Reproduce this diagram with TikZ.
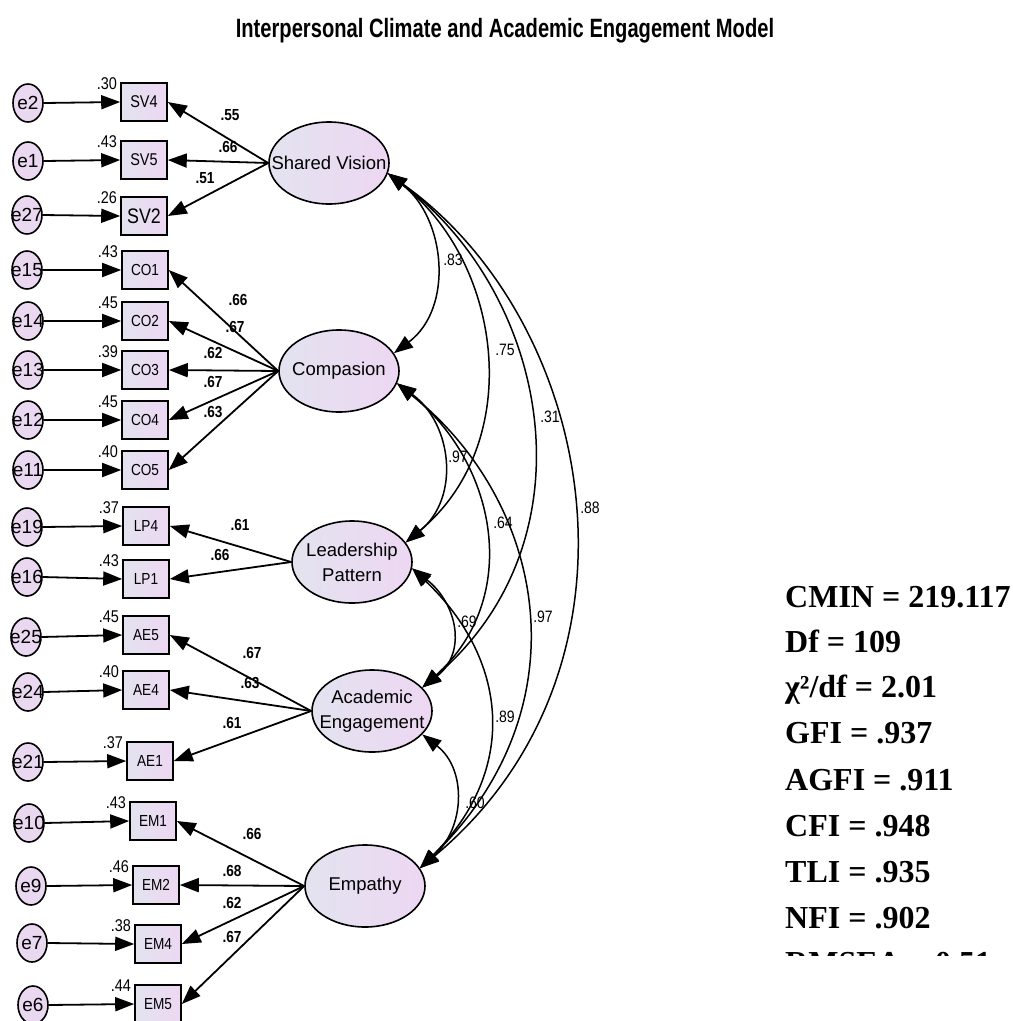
\documentclass[tikz,border=0pt]{standalone}
\usepackage{fontspec}
\setmainfont{Liberation Sans}
\newfontfamily\narrowfont{Liberation Sans}[FakeStretch=0.85]
\newfontfamily\titlefont{Liberation Sans}[FakeStretch=0.76]
\newfontfamily\fitfont{Liberation Serif}
\usetikzlibrary{shapes.geometric, arrows.meta}

\definecolor{shadeleft}{HTML}{E3E3EF}
\definecolor{shaderight}{HTML}{EDD7F3}
\definecolor{errfill}{HTML}{EAD7F0}

\tikzset{
    tip/.tip={Triangle[length=19bp, width=14bp]},
    obsbox/.style={draw, line width=1.6bp, rectangle, minimum width=46bp, minimum height=38bp,
        inner sep=0pt, left color=shadeleft, right color=shaderight},
    errnode/.style={draw, line width=1.6bp, ellipse, minimum width=30bp, minimum height=38bp,
        inner sep=0pt, fill=errfill, label={[errtext]center:#1}},
    errtext/.style={inner sep=0pt, font=\fontsize{19bp}{21bp}\selectfont},
    latent/.style={draw, line width=1.6bp, ellipse, minimum width=120bp, minimum height=82bp,
        inner sep=0pt, left color=shadeleft, right color=shaderight, label={[latenttext]center:#1}},
    latenttext/.style={align=center, inner sep=0pt, font=\fontsize{18.5bp}{25bp}\selectfont},
    loading/.style={-tip, line width=1.8bp},
    covar/.style={tip-tip, line width=1.5bp},
    weight/.style={inner sep=0pt, font=\narrowfont\bfseries\fontsize{16bp}{18bp}\selectfont},
    rsq/.style={inner sep=0pt, anchor=base east, font=\narrowfont\fontsize{17bp}{19bp}\selectfont},
    corr/.style={inner sep=0pt, font=\narrowfont\fontsize{16.5bp}{18bp}\selectfont},
    fit/.style={inner sep=0pt, anchor=base west, font=\fitfont\bfseries\fontsize{32bp}{34bp}\selectfont}
}

\begin{document}
\begin{tikzpicture}[x=1bp, y=-1bp]
    \useasboundingbox (0,0) rectangle (1013,1021);

    \node[font=\titlefont\bfseries\fontsize{26.5bp}{28bp}\selectfont] (title) at (505,31)
        {Interpersonal Climate and Academic Engagement Model};

    % latent factors
    \node[latent={Shared Vision}] (SV) at (329,163) {};
    \node[latent={Compasion}] (CO) at (339,371) {};
    \node[latent={Leadership\\Pattern}] (LP) at (352,562) {};
    \node[latent={Academic\\Engagement}] (AE) at (372,711) {};
    \node[latent={Empathy}] (EM) at (365,886) {};

    % indicators with their error terms
    \foreach \item/\bx/\by/\fs/\err/\ex/\ey/\rval in {
        SV4/144/102/17/e2/28/103/.30,
        SV5/144/160/17/e1/28/161/.43,
        SV2/144/216/21/e27/27/215/.26,
        CO1/145/270/16/e15/27/270/.43,
        CO2/145/321/16/e14/28/321/.45,
        CO3/145/370/16/e13/28/370/.39,
        CO4/145/420/16/e12/28/420/.45,
        CO5/145/470/16/e11/28/470/.40,
        LP4/146/526/16/e19/27/527/.37,
        LP1/146/579/16/e16/27/577/.43,
        AE5/146/635/16/e25/26/637/.45,
        AE4/146/690/16/e24/28/692/.40,
        AE1/150/761/16/e21/28/762/.37,
        EM1/153/821/16/e10/29/823/.43,
        EM2/156/885/16/e9/31/886/.46,
        EM4/158/944/16/e7/32/943/.38,
        EM5/158/1004/16/e6/33/1005/.44
    }{
        \node[obsbox, font=\narrowfont\fontsize{\fs bp}{\fs bp}\selectfont] (\item) at (\bx,\by) {\item};
        \node[errnode=\err] (\err) at (\ex,\ey) {};
        \node[rsq] (r\item) at ([shift={(-3,7)}]\item.north west) {\rval};
        \draw[loading] (\err.east) -- (\item.west);
    }

    % factor loadings
    \foreach \lat/\item/\lx/\ly/\val in {
        SV/SV4/230/115/.55, SV/SV5/228/147/.66, SV/SV2/205/178/.51,
        CO/CO1/238/300/.66, CO/CO2/235/327/.67, CO/CO3/213/353/.62, CO/CO4/213/382/.67, CO/CO5/213/412/.63,
        LP/LP4/240/525/.61, LP/LP1/220/555/.66,
        AE/AE5/252/653/.67, AE/AE4/250/683/.63, AE/AE1/232/723/.61,
        EM/EM1/252/834/.66, EM/EM2/232/871/.68, EM/EM4/232/903/.62, EM/EM5/232/937/.67
    }{
        \draw[loading] (\lat.west) -- (\item.east);
        \node[weight] (w\item) at (\lx,\ly) {\val};
    }

    % correlations between factors
    \foreach \from/\fa/\to/\ta/\ax/\ay/\bx/\by/\lx/\ly/\val/\tag in {
        SV/-10/CO/18/58/45/60/-45/453/260/.83/a,
        SV/-10/LP/20/115/90/120/-100/505/350/.75/b,
        SV/-10/AE/25/160/120/175/-150/550/417/.31/c,
        SV/-10/EM/18/210/150/240/-200/590/508/.88/d,
        CO/-12/LP/20/55/40/55/-45/458/457/.97/e,
        CO/-12/AE/25/100/80/100/-90/503/523/.64/f,
        CO/-12/EM/18/150/120/165/-160/543/617/.97/g,
        LP/-6/AE/25/45/35/45/-35/467/622/.69/h,
        LP/-6/EM/18/95/90/100/-100/505/717/.89/i,
        AE/-25/EM/18/45/35/45/-40/475/803/.60/j
    }{
        \draw[covar] (\from.\fa) .. controls +(\ax,\ay) and +(\bx,\by) .. (\to.\ta);
        \node[corr] (c\tag) at (\lx,\ly) {\val};
    }

    % fit indices
    \foreach \yy/\stat/\tag in {
        607/CMIN = 219.117/cmin,
        652/Df = 109/df,
        697/{χ²/df = 2.01}/chi,
        743/GFI = .937/gfi,
        790/AGFI = .911/agfi,
        836/CFI = .948/cfi,
        882/TLI = .935/tli,
        928/NFI = .902/nfi
    }{
        \node[fit] (\tag) at (785,\yy) {\stat};
    }
    \begin{scope}
        \clip (760,900) rectangle (1013,955);
        \node[fit] (rmsea) at (785,973) {RMSEA = 0.51};
    \end{scope}
\end{tikzpicture}
\end{document}
